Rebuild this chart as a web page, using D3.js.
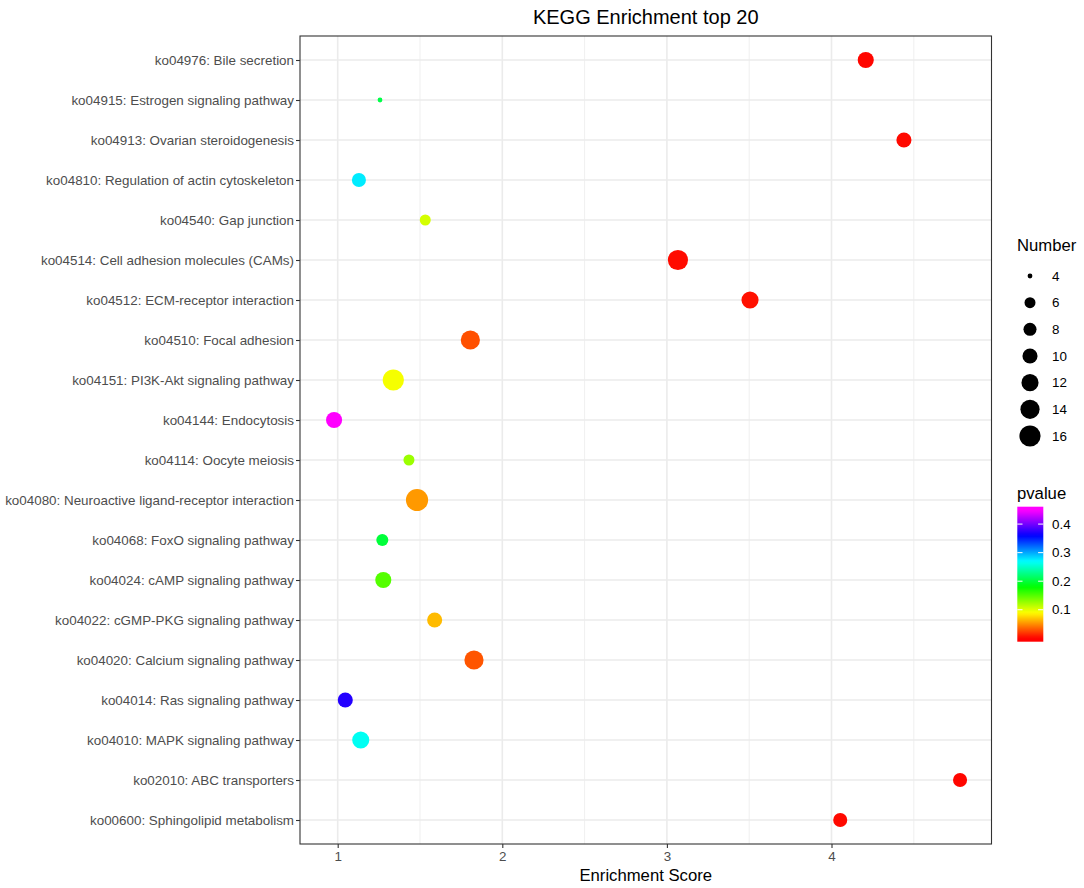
<!DOCTYPE html>
<html>
<head>
<meta charset="utf-8">
<script src="https://cdn.jsdelivr.net/npm/d3@7"></script>
<style>
  body { margin: 0; background: #fff; }
  text { font-family: "Liberation Sans", Arial, Helvetica, sans-serif; }
</style>
</head>
<body>
<svg id="chart" width="1084" height="888"></svg>
<script>
// ---- data (top row first) ----
const pathways = [
  "ko04976: Bile secretion",
  "ko04915: Estrogen signaling pathway",
  "ko04913: Ovarian steroidogenesis",
  "ko04810: Regulation of actin cytoskeleton",
  "ko04540: Gap junction",
  "ko04514: Cell adhesion molecules (CAMs)",
  "ko04512: ECM-receptor interaction",
  "ko04510: Focal adhesion",
  "ko04151: PI3K-Akt signaling pathway",
  "ko04144: Endocytosis",
  "ko04114: Oocyte meiosis",
  "ko04080: Neuroactive ligand-receptor interaction",
  "ko04068: FoxO signaling pathway",
  "ko04024: cAMP signaling pathway",
  "ko04022: cGMP-PKG signaling pathway",
  "ko04020: Calcium signaling pathway",
  "ko04014: Ras signaling pathway",
  "ko04010: MAPK signaling pathway",
  "ko02010: ABC transporters",
  "ko00600: Sphingolipid metabolism"
];
const enrichmentScore = [4.208, 1.257, 4.440, 1.129, 1.532, 3.067, 3.505, 1.806, 1.338, 0.978,
                         1.433, 1.482, 1.271, 1.277, 1.589, 1.828, 1.046, 1.140, 4.781, 4.053];
const geneNumber = [11, 4, 10, 9, 6, 15, 12, 14, 16, 11,
                    6, 17, 7, 11, 10, 14, 10, 12, 9, 9];
const pvalue = [0.002, 0.205, 0.003, 0.276, 0.105, 0.004, 0.006, 0.028, 0.093, 0.449,
                0.125, 0.054, 0.200, 0.150, 0.066, 0.030, 0.372, 0.265, 0.002, 0.003];

const xTicks = [1, 2, 3, 4];
const xMinorTicks = [1.5, 2.5, 3.5, 4.5];
const sizeBreaks = [4, 6, 8, 10, 12, 14, 16];
const pvalueBreaks = [0.1, 0.2, 0.3, 0.4];
const rainbow = ["#FF0000", "#FFFF00", "#00FF00", "#00FFFF", "#0000FF", "#FF00FF"];

const titleText = "KEGG Enrichment top 20";
const xTitle = "Enrichment Score";

// ---- layout ----
const svg = d3.select("#chart");
const panel = { left: 300, right: 991.5, top: 36, bottom: 844 };
const axisTextColor = "#4D4D4D";
const gridColor = "#EBEBEB";
const borderColor = "#333333";

const x = d3.scaleLinear().domain([0.771, 4.972]).range([panel.left, panel.right]);
const y = d3.scalePoint().domain(pathways).range([panel.top, panel.bottom]).padding(0.6);
const r = d3.scaleLinear().domain([4, 6, 16]).range([2.4, 5.5, 10.6]);
const pMin = 0.0, pMax = 0.449;
const colorDomain = rainbow.map((c, i) => pMin + (pMax - pMin) * i / (rainbow.length - 1));
const color = d3.scaleLinear().domain(colorDomain).range(rainbow).clamp(true);

const data = pathways.map((p, i) => ({
  name: p, x: enrichmentScore[i], n: geneNumber[i], p: pvalue[i]
}));

// panel background
svg.append("rect")
  .attr("x", panel.left).attr("y", panel.top)
  .attr("width", panel.right - panel.left).attr("height", panel.bottom - panel.top)
  .attr("fill", "#fff");

const grid = svg.append("g");
grid.selectAll(".minor").data(xMinorTicks.filter(t => x(t) < panel.right)).enter().append("line")
  .attr("x1", d => x(d)).attr("x2", d => x(d))
  .attr("y1", panel.top).attr("y2", panel.bottom)
  .attr("stroke", gridColor).attr("stroke-width", 0.8);
grid.selectAll(".majorx").data(xTicks).enter().append("line")
  .attr("x1", d => x(d)).attr("x2", d => x(d))
  .attr("y1", panel.top).attr("y2", panel.bottom)
  .attr("stroke", gridColor).attr("stroke-width", 1.6);
grid.selectAll(".majory").data(pathways).enter().append("line")
  .attr("x1", panel.left).attr("x2", panel.right)
  .attr("y1", d => y(d)).attr("y2", d => y(d))
  .attr("stroke", gridColor).attr("stroke-width", 1.6);

// points
svg.append("g").selectAll("circle").data(data).enter().append("circle")
  .attr("cx", d => x(d.x)).attr("cy", d => y(d.name))
  .attr("r", d => r(d.n))
  .attr("fill", d => color(d.p));

// panel border
svg.append("rect")
  .attr("x", panel.left).attr("y", panel.top)
  .attr("width", panel.right - panel.left).attr("height", panel.bottom - panel.top)
  .attr("fill", "none").attr("stroke", borderColor).attr("stroke-width", 1.1);

// x axis
const xAxis = d3.axisBottom(x).tickValues(xTicks).tickFormat(d3.format("d")).tickSizeOuter(0).tickSize(4).tickPadding(3);
const gx = svg.append("g").attr("transform", `translate(0,${panel.bottom})`).call(xAxis);
gx.select(".domain").remove();
gx.selectAll(".tick line").attr("stroke", borderColor).attr("stroke-width", 1.1);
gx.selectAll(".tick text").attr("fill", axisTextColor).style("font-size", "13.4px")
  .attr("font-family", "Liberation Sans, Arial, sans-serif");

// y axis
const yAxis = d3.axisLeft(y).tickSizeOuter(0).tickSize(4).tickPadding(2);
const gy = svg.append("g").attr("transform", `translate(${panel.left},0)`).call(yAxis);
gy.select(".domain").remove();
gy.selectAll(".tick line").attr("stroke", borderColor).attr("stroke-width", 1.1);
gy.selectAll(".tick text").attr("fill", axisTextColor).style("font-size", "13.4px")
  .attr("font-family", "Liberation Sans, Arial, sans-serif");

// titles
svg.append("text")
  .attr("x", (panel.left + panel.right) / 2).attr("y", 24)
  .attr("text-anchor", "middle").style("font-size", "20px").attr("fill", "#000")
  .text(titleText);
svg.append("text")
  .attr("x", (panel.left + panel.right) / 2).attr("y", 881)
  .attr("text-anchor", "middle").style("font-size", "16.7px").attr("fill", "#000")
  .text(xTitle);

// ---- size legend ----
const legX = 1017;
svg.append("text").attr("x", legX).attr("y", 251)
  .style("font-size", "16.7px").attr("fill", "#000").text("Number");
const sizeRow = d3.scalePoint().domain(sizeBreaks).range([276, 436]);
const sl = svg.append("g").selectAll("g").data(sizeBreaks).enter().append("g");
sl.append("circle").attr("cx", 1030).attr("cy", d => sizeRow(d)).attr("r", d => r(d)).attr("fill", "#000");
sl.append("text").attr("x", 1052).attr("y", d => sizeRow(d)).attr("dy", "0.35em")
  .style("font-size", "13.4px").attr("fill", "#000").text(d => d);

// ---- colour legend ----
svg.append("text").attr("x", legX).attr("y", 499)
  .style("font-size", "16.7px").attr("fill", "#000").text("pvalue");
const bar = { x: 1017.3, w: 26, top: 506.7, bottom: 641.7 };
const pY = d3.scaleLinear().domain([pMin, pMax]).range([bar.bottom - 3.4, bar.top + 3.4]);
const defs = svg.append("defs");
const grad = defs.append("linearGradient").attr("id", "pgrad")
  .attr("x1", 0).attr("x2", 0).attr("y1", 1).attr("y2", 0);
d3.range(0, 1.0001, 0.02).forEach(t => {
  const yy = bar.bottom - t * (bar.bottom - bar.top);
  grad.append("stop").attr("offset", t).attr("stop-color", color(pY.invert(yy)));
});
svg.append("rect").attr("x", bar.x).attr("y", bar.top).attr("width", bar.w)
  .attr("height", bar.bottom - bar.top).attr("fill", "url(#pgrad)");
const pt = svg.append("g").selectAll("g").data(pvalueBreaks).enter().append("g");
pt.append("line").attr("x1", bar.x).attr("x2", bar.x + bar.w / 5)
  .attr("y1", d => pY(d)).attr("y2", d => pY(d)).attr("stroke", "#fff").attr("stroke-width", 1);
pt.append("line").attr("x1", bar.x + bar.w * 4 / 5).attr("x2", bar.x + bar.w)
  .attr("y1", d => pY(d)).attr("y2", d => pY(d)).attr("stroke", "#fff").attr("stroke-width", 1);
pt.append("text").attr("x", 1052).attr("y", d => pY(d)).attr("dy", "0.35em")
  .style("font-size", "13.4px").attr("fill", "#000").text(d => d3.format(".1f")(d));
</script>
</body>
</html>
